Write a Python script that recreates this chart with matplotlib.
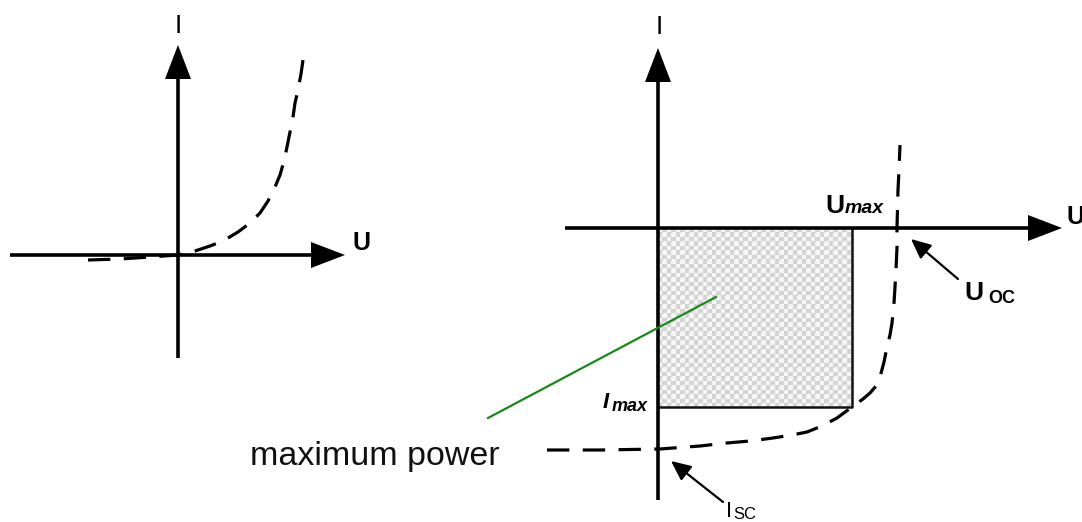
import numpy as np
import matplotlib
matplotlib.use("Agg")
import matplotlib.pyplot as plt

# ---- diagram data (pixel-space of the 1082x522 canvas) ----
# left panel: diode-like I-U characteristic
left_curve_u = [88, 120, 150, 178, 195, 210, 223, 238, 250, 260, 268, 275, 280, 284, 287, 290, 293, 295, 298, 301, 303]
left_curve_i = [260, 259, 257, 255, 251, 246, 241, 232, 223, 213, 201, 187, 175, 161, 147, 132, 117, 103, 90, 74, 60]
# right panel: illuminated cell characteristic
right_curve_u = [547, 600, 660, 673, 700, 727, 750, 773, 792, 807, 822, 837, 852, 863, 870, 876, 880, 884, 887, 890, 892, 894, 895, 896, 897, 897, 898, 899, 900]
right_curve_i = [450, 450, 449, 448, 446, 443, 441, 438, 435, 432, 426, 418, 407, 399, 393, 386, 377, 362, 347, 335, 323, 303, 287, 270, 247, 228, 190, 170, 145]
# maximum power rectangle corners
mp_u = [658, 852]
mp_i = [228, 407]
# axes geometry: (x0, x1, y) horizontal, (x, y0, y1) vertical
left_h = (10, 345, 255)
left_v = (178, 358, 45)
right_h = (565, 1062, 228)
right_v = (658, 500, 48)

fig = plt.figure(figsize=(10.82, 5.22), dpi=100)
ax = fig.add_axes([0, 0, 1, 1])
ax.set_xlim(0, 1082)
ax.set_ylim(522, 0)
ax.axis("off")

LW = 2.6
HL, HW = 34, 13  # arrow head length and half-width (px)


def h_arrow(x0, x1, y):
    ax.plot([x0, x1 - HL + 2], [y, y], color="black", lw=LW, solid_capstyle="butt", zorder=3)
    ax.fill([x1 - HL, x1, x1 - HL], [y - HW, y, y + HW], color="black", zorder=3, lw=0)


def v_arrow(x, y0, y1):
    ax.plot([x, x], [y0, y1 + HL - 2], color="black", lw=LW, solid_capstyle="butt", zorder=3)
    ax.fill([x - HW, x, x + HW], [y1 + HL, y1, y1 + HL], color="black", zorder=3, lw=0)


# checkered max-power area
cell = 4.5
nx = int((mp_u[1] - mp_u[0]) / cell) + 1
ny = int((mp_i[1] - mp_i[0]) / cell) + 1
board = (np.add.outer(np.arange(ny), np.arange(nx)) % 2).astype(float)
ax.imshow(board, cmap=matplotlib.colors.ListedColormap(["#f6f6f6", "#d4d4d4"]),
          extent=(mp_u[0], mp_u[0] + nx * cell, mp_i[0] + ny * cell, mp_i[0]),
          interpolation="bilinear", zorder=1, aspect="auto")
ax.fill([mp_u[1], 1082, 1082, mp_u[1]], [mp_i[0], mp_i[0], 522, 522], color="white", zorder=1.5)
ax.fill([mp_u[0], mp_u[1] + 1, mp_u[1] + 1, mp_u[0]], [mp_i[1], mp_i[1], 522, 522], color="white", zorder=1.5)
ax.plot([mp_u[1], mp_u[1], mp_u[0]], [mp_i[0], mp_i[1], mp_i[1]], color="#111111", lw=1.8, zorder=2)

# axes
h_arrow(*left_h)
v_arrow(*left_v)
h_arrow(*right_h)
v_arrow(*right_v)

# curves
dash = (7, 4.2)
ax.plot(left_curve_u, left_curve_i, color="black", lw=2.3, dashes=dash, zorder=4)
ax.plot(right_curve_u, right_curve_i, color="black", lw=2.3, dashes=dash, zorder=4)

# pointer arrows
ax.annotate("", xy=(911, 239), xytext=(958, 279),
            arrowprops=dict(arrowstyle="-|>,head_length=1.2,head_width=0.55", lw=1.6,
                            color="black", shrinkA=0, shrinkB=0), zorder=5)
ax.annotate("", xy=(671, 461), xytext=(723, 502),
            arrowprops=dict(arrowstyle="-|>,head_length=1.2,head_width=0.55", lw=1.6,
                            color="black", shrinkA=0, shrinkB=0), zorder=5)

# green leader line
ax.plot([488, 716], [418, 297], color="#178a17", lw=1.6, zorder=5)

# labels
F = "Liberation Sans"
ax.text(178, 33, "I", fontsize=19, family=F, ha="center", va="baseline")
ax.text(659, 34, "I", fontsize=19, family=F, ha="center", va="baseline")
ax.text(352, 250, "U", fontsize=18, family=F, weight="bold", ha="left", va="baseline")
ax.text(1067, 224, "U", fontsize=18, family=F, weight="bold", ha="left", va="baseline")
ax.text(825, 213, "U", fontsize=19, family=F, weight="bold", ha="left", va="baseline")
ax.text(845, 213, "max", fontsize=14, family=F, weight="bold", style="italic", ha="left", va="baseline")
ax.text(964, 300, "U", fontsize=19, family=F, weight="bold", ha="left", va="baseline")
ax.text(988, 303, "OC", fontsize=13, family=F, weight="bold", ha="left", va="baseline")
ax.text(603, 408, "I", fontsize=16, family=F, weight="bold", style="italic", ha="left", va="baseline")
ax.text(612, 411, "max", fontsize=13, family=F, weight="bold", style="italic", ha="left", va="baseline")
ax.text(726, 517, "I", fontsize=16, family=F, ha="left", va="baseline")
ax.text(733, 519, "SC", fontsize=12, family=F, ha="left", va="baseline")
ax.text(250, 465, "maximum power", fontsize=24.5, family=F, ha="left", va="baseline", color="#111111")

fig.savefig("out.png", dpi=100)
